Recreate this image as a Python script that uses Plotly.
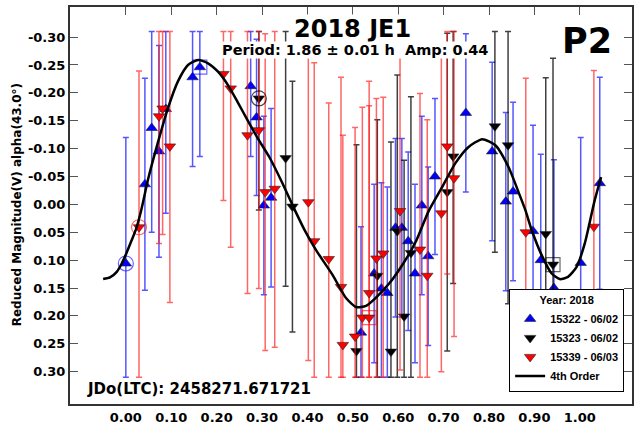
import numpy as np
import plotly.graph_objects as go

# phase / reduced magnitude readings, session 15322 (blue, triangle up)
blue_phase = [0.000, 0.042, 0.057, 0.073, 0.088, 0.147, 0.163, 0.275, 0.288, 0.304, 0.320,
              0.518, 0.547, 0.563, 0.576, 0.594, 0.608, 0.622, 0.637, 0.652, 0.666, 0.681,
              0.749, 0.807, 0.837, 0.853, 0.897, 0.914, 0.943, 1.002, 1.044]
blue_mag = [0.106, -0.036, -0.137, -0.095, -0.171, -0.228, -0.246, -0.212, -0.156, 0.002, -0.012,
            0.230, 0.124, 0.151, 0.159, 0.042, 0.042, 0.066, 0.124, 0.002, 0.093, -0.050,
            -0.164, -0.095, -0.005, -0.023, 0.048, 0.100, 0.150, 0.105, -0.038]
blue_err = [0.226, 0.19, 0.187, 0.19, 0.187, 0.16, 0.16, 0.126, 0.14, 0.16, 0.16,
            0.19, 0.16, 0.19, 0.19, 0.16, 0.16, 0.16, 0.16, 0.16, 0.16, 0.14,
            0.142, 0.16, 0.16, 0.16, 0.19, 0.19, 0.23, 0.225, 0.19]

# session 15323 (black, triangle down)
black_phase = [0.293, 0.352, 0.367, 0.508, 0.554, 0.584, 0.598, 0.613, 0.628, 0.708, 0.721,
               0.813, 0.842, 0.925, 0.941]
black_mag = [-0.190, -0.083, 0.004, 0.263, 0.128, 0.264, 0.048, 0.201, 0.087, -0.022, -0.086,
             -0.140, -0.106, 0.053, 0.108]
black_err = [0.20, 0.23, 0.225, 0.37, 0.28, 0.376, 0.28, 0.28, 0.28, 0.285, 0.228,
             0.226, 0.284, 0.28, 0.37]

# session 15339 (red, triangle down)
red_phase = [0.029, 0.073, 0.081, 0.097, 0.215, 0.231, 0.268, 0.293, 0.307, 0.328, 0.402,
             0.415, 0.447, 0.474, 0.478, 0.505, 0.521, 0.536, 0.536, 0.552, 0.567, 0.604,
             0.648, 0.664, 0.695, 0.708, 0.723, 0.881, 1.031]
red_mag = [0.041, -0.158, -0.172, -0.104, -0.234, -0.208, -0.124, -0.133, -0.022, -0.028, -0.004,
           0.066, 0.098, 0.148, 0.252, 0.237, 0.203, 0.203, 0.159, 0.097, 0.088, 0.012,
           0.081, 0.128, 0.016, -0.104, -0.047, 0.050, 0.040]
red_err = [0.28, 0.228, 0.226, 0.28, 0.227, 0.285, 0.284, 0.284, 0.284, 0.284, 0.284,
           0.32, 0.28, 0.376, 0.376, 0.375, 0.377, 0.38, 0.38, 0.287, 0.28, 0.285,
           0.28, 0.28, 0.284, 0.229, 0.284, 0.276, 0.28]

# 4th order fourier fit
fit_phase = [-0.050, -0.035, -0.020, -0.009, 0.001, 0.013, 0.023, 0.034, 0.049, 0.071, 0.093,
             0.115, 0.137, 0.159, 0.181, 0.203, 0.225, 0.246, 0.268, 0.291, 0.316, 0.345,
             0.371, 0.395, 0.419, 0.455, 0.485, 0.507, 0.529, 0.550, 0.580, 0.608, 0.638,
             0.667, 0.696, 0.726, 0.755, 0.785, 0.814, 0.843, 0.865, 0.880, 0.894, 0.916,
             0.938, 0.956, 0.974, 0.993, 1.011, 1.033, 1.047]
fit_mag = [0.134, 0.131, 0.121, 0.106, 0.088, 0.064, 0.043, 0.010, -0.045, -0.112, -0.173,
           -0.221, -0.250, -0.259, -0.253, -0.238, -0.214, -0.184, -0.151, -0.118, -0.085, -0.038,
           0.008, 0.048, 0.082, 0.126, 0.168, 0.184, 0.182, 0.168, 0.142, 0.110, 0.068,
           0.012, -0.030, -0.074, -0.103, -0.117, -0.106, -0.067, -0.022, 0.010, 0.046, 0.091,
           0.124, 0.134, 0.130, 0.112, 0.070, -0.008, -0.049]

# first point of each session circled, reference point boxed
blue_box, red_box, black_box = 6, 17, 14

x_ticks = [0.0, 0.1, 0.2, 0.3, 0.4, 0.5, 0.6, 0.7, 0.8, 0.9, 1.0]
x_labels = ["0.00", "0.10", "0.20", "0.30", "0.40", "0.50", "0.60", "0.70", "0.80", "0.90", "1.00"]
y_ticks = [-0.30, -0.25, -0.20, -0.15, -0.10, -0.05, 0.0, 0.05, 0.10, 0.15, 0.20, 0.25, 0.30]
y_labels = ["-0.30", "-0.25", "-0.20", "-0.15", "-0.10", "-0.05", "0.00",
            "0.05", "0.10", "0.15", "0.20", "0.25", "0.30"]

CLIP = 0.31
BOLD = "DejaVu Sans"
LEG = "Liberation Sans"


def err_bars(mag, err, color):
    mag = np.array(mag)
    err = np.array(err)
    plus = np.minimum(err, CLIP - mag)
    minus = np.minimum(err, mag + CLIP)
    return dict(type="data", symmetric=False, array=plus, arrayminus=minus,
                color=color, thickness=1.5, width=3)


fig = go.Figure()

series = [
    ("15322 - 06/02", blue_phase, blue_mag, blue_err, "#0000ff", "rgba(30,30,255,0.75)", "triangle-up"),
    ("15323 - 06/02", black_phase, black_mag, black_err, "#000000", "rgba(0,0,0,0.75)", "triangle-down"),
    ("15339 - 06/03", red_phase, red_mag, red_err, "#ff0000", "rgba(255,20,20,0.65)", "triangle-down"),
]
for name, px_, py_, pe_, col, ecol, sym in series:
    fig.add_trace(go.Scatter(
        x=px_, y=py_, mode="markers", name=name,
        error_y=err_bars(py_, pe_, ecol),
        marker=dict(symbol=sym, size=10, color=col, line=dict(color="#222", width=0.6)),
    ))

# circles and boxes round the marked points
marks = [
    (blue_phase[0], blue_mag[0], "circle-open", "rgba(0,0,255,0.6)", 15),
    (red_phase[0], red_mag[0], "circle-open", "rgba(255,0,0,0.6)", 15),
    (black_phase[0], black_mag[0], "circle-open", "rgba(0,0,0,0.7)", 15),
    (blue_phase[blue_box], blue_mag[blue_box], "square-open", "rgba(0,0,255,0.6)", 14),
    (red_phase[red_box], red_mag[red_box], "square-open", "rgba(255,0,0,0.6)", 14),
    (black_phase[black_box], black_mag[black_box], "square-open", "rgba(0,0,0,0.6)", 14),
]
for mx, my, sym, col, sz in marks:
    fig.add_trace(go.Scatter(x=[mx], y=[my], mode="markers", showlegend=False,
                             marker=dict(symbol=sym, size=sz, color=col, line=dict(width=1.2))))

fig.add_trace(go.Scatter(x=fit_phase, y=fit_mag, mode="lines", name="4th Order",
                         line=dict(color="black", width=2.5, shape="spline", smoothing=0.6)))

fig.update_layout(
    width=635, height=429,
    margin=dict(l=70, r=1, t=7, b=25),
    paper_bgcolor="white", plot_bgcolor="white",
    showlegend=True,
    legend=dict(
        x=0.986, y=0.03, xanchor="right", yanchor="bottom",
        bgcolor="white", bordercolor="black", borderwidth=1,
        font=dict(family=LEG, size=11, color="black", weight="bold"),
        title=dict(text="Year: 2018", side="top center",
                   font=dict(family=LEG, size=11, color="black", weight="bold")),
        tracegroupgap=0, itemwidth=30,
    ),
    xaxis=dict(range=[-0.123, 1.115], tickvals=x_ticks, ticktext=x_labels, ticks="",
               showgrid=False, zeroline=False, showline=True, linecolor="#333", linewidth=2,
               mirror=True,
               tickfont=dict(family=BOLD, size=13, color="black", weight="bold")),
    xaxis2=dict(range=[-0.123, 1.115], overlaying="x", side="top", tickvals=x_ticks,
                ticks="inside", ticklen=8, tickcolor="#555", showticklabels=False,
                showgrid=False, zeroline=False, showline=False),
    yaxis=dict(range=[0.358, -0.354], tickvals=y_ticks, ticktext=y_labels,
               ticks="inside", ticklen=8, tickcolor="#555", mirror="ticks",
               showgrid=False, zeroline=False, showline=True, linecolor="#333", linewidth=2,
               tickfont=dict(family=BOLD, size=13, color="black", weight="bold")),
)
# dummy trace to keep the top axis alive
fig.add_trace(go.Scatter(x=[0.5], y=[0], xaxis="x2", mode="markers", showlegend=False,
                         marker=dict(opacity=0), hoverinfo="skip"))

texts = [
    # text, x, y, size, white box
    ("2018 JE1", 0.502, 0.944, 24, True),
    ("Period: 1.86 ± 0.01 h\u00a0\u00a0Amp: 0.44", 0.507, 0.892, 14.5, True),
    ("P2", 0.920, 0.914, 35, False),
]
for txt, ax, ay, sz, box in texts:
    fig.add_annotation(x=ax, y=ay, xref="paper", yref="paper", text=txt,
                       xanchor="center", yanchor="middle", showarrow=False,
                       bgcolor="white" if box else None, borderpad=0,
                       font=dict(family=BOLD, size=sz, color="black", weight="bold"))

fig.add_annotation(x=0.028, y=0.038, xref="paper", yref="paper", xanchor="left",
                   yanchor="middle", text="JDo(LTC): 2458271.671721", showarrow=False,
                   bgcolor="white", borderpad=0,
                   font=dict(family=BOLD, size=15, color="black", weight="bold"))
fig.add_annotation(x=-0.094, y=0.501, xref="paper", yref="paper", textangle=-90,
                   xanchor="center", yanchor="middle",
                   text="Reduced Magnitude(V) alpha(43.0°)", showarrow=False,
                   font=dict(family=BOLD, size=12, color="black", weight="bold"))

# page body has an 8px default margin; drop it so the figure sits at the corner
fig.write_html("out.html", config={"displayModeBar": False},
               post_script="document.body.style.margin='0';")
